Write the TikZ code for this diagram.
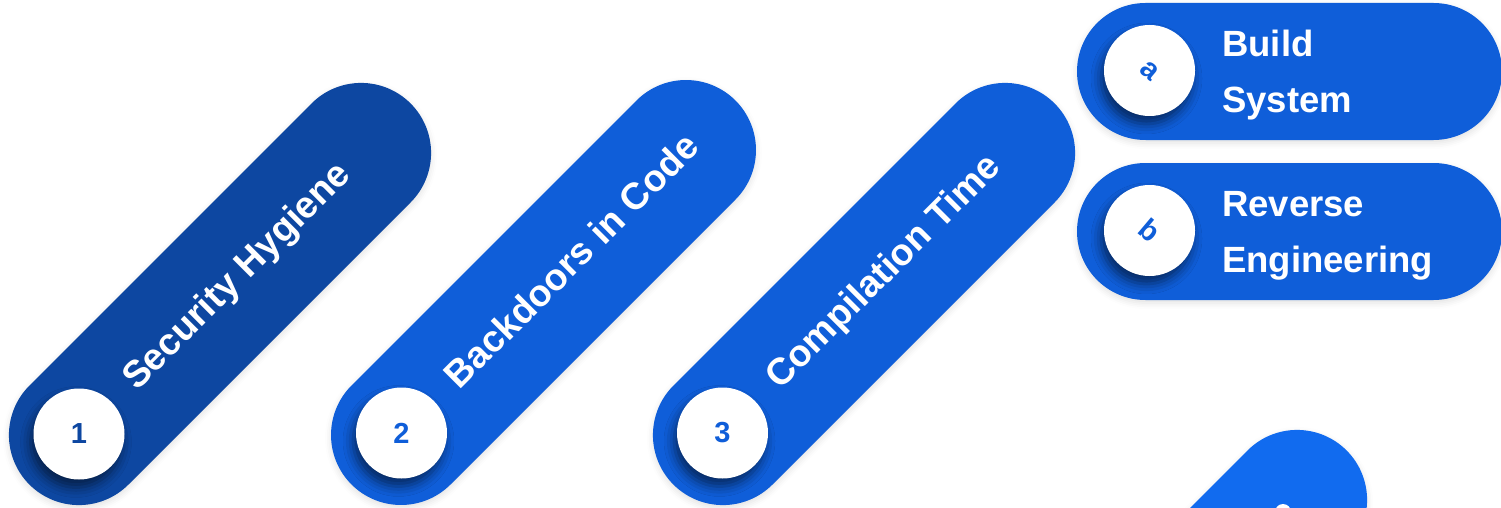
\documentclass[tikz,border=0pt]{standalone}
\usepackage{fontspec}
\setmainfont{Liberation Sans}
\usetikzlibrary{shadows.blur}
\definecolor{deepblue}{HTML}{0D47A1}
\definecolor{midblue}{HTML}{0F5ED9}
\definecolor{brightblue}{HTML}{116BEF}
\tikzset{
	pill/.style={
		rectangle,
		rounded corners=70pt,
		minimum height=140pt,
		inner sep=0pt,
		blur shadow={shadow xshift=0pt, shadow yshift=-3pt,
			shadow opacity=12, shadow blur radius=6pt},
	},
	badge/.style={
		circle,
		fill=white,
		minimum size=91pt,
		inner sep=0pt,
		font=\fontsize{29}{30}\selectfont\bfseries,
		blur shadow={shadow xshift=-3pt, shadow yshift=-8pt,
			shadow opacity=55, shadow blur radius=10pt},
	},
	caption/.style={
		text=white,
		inner sep=0pt,
		align=left,
		font=\fontsize{36.5}{56}\selectfont\bfseries,
	},
}

\begin{document}
\begin{tikzpicture}[
		x=1pt, y=1pt,
		slant/.style={rotate=45, minimum width=539pt},
		flat/.style={minimum width=425pt, minimum height=137pt, rounded corners=68.5pt},
		tilted/.style={rotate=45, anchor=base west, font=\fontsize{37.5}{40}\selectfont\bfseries},
	]
		\useasboundingbox (0,0) rectangle (1501,-508);
		\clip (0,0) rectangle (1501,-508);

		% diagonal steps
		\node[pill, slant, fill=deepblue] (hygiene) at (220,-294) {};
		\node[pill, slant, fill=midblue, minimum width=543pt] (backdoors) at (543.5,-292.5) {};
		\node[pill, slant, fill=midblue] (compile) at (864,-294) {};
		\node[pill, slant, fill=brightblue] (next) at (1156,-641) {};

		\node[badge, text=deepblue] (one) at (79,-434) {1};
		\node[badge, text=midblue] (two) at (401.5,-433) {2};
		\node[badge, text=midblue] (three) at (722.5,-433) {3};
		\node[circle, fill=white, minimum size=16pt, inner sep=0pt] (dot) at (1283,-512) {};

		\node[caption, tilted] at ([shift={(58,42)}]one.center) {Security Hygiene};
		\node[caption, tilted] at ([shift={(58,42)}]two.center) {Backdoors in Code};
		\node[caption, tilted] at ([shift={(58,42)}]three.center) {Compilation Time};

		% sub steps
		\node[pill, flat, fill=midblue] (build) at (1289.5,-71.5) {};
		\node[pill, flat, fill=midblue] (reverse) at (1289.5,-231.5) {};

		\node[badge, text=midblue] (a) at (1149.5,-70.5) {\rotatebox{-40}{a}};
		\node[badge, text=midblue] (b) at (1149.5,-230.5) {\rotatebox{-40}{b}};

		\node[caption, anchor=west] at (1222,-75.5) {Build\\System};
		\node[caption, anchor=west] at (1222,-235.5) {Reverse\\Engineering};

	\end{tikzpicture}
\end{document}
